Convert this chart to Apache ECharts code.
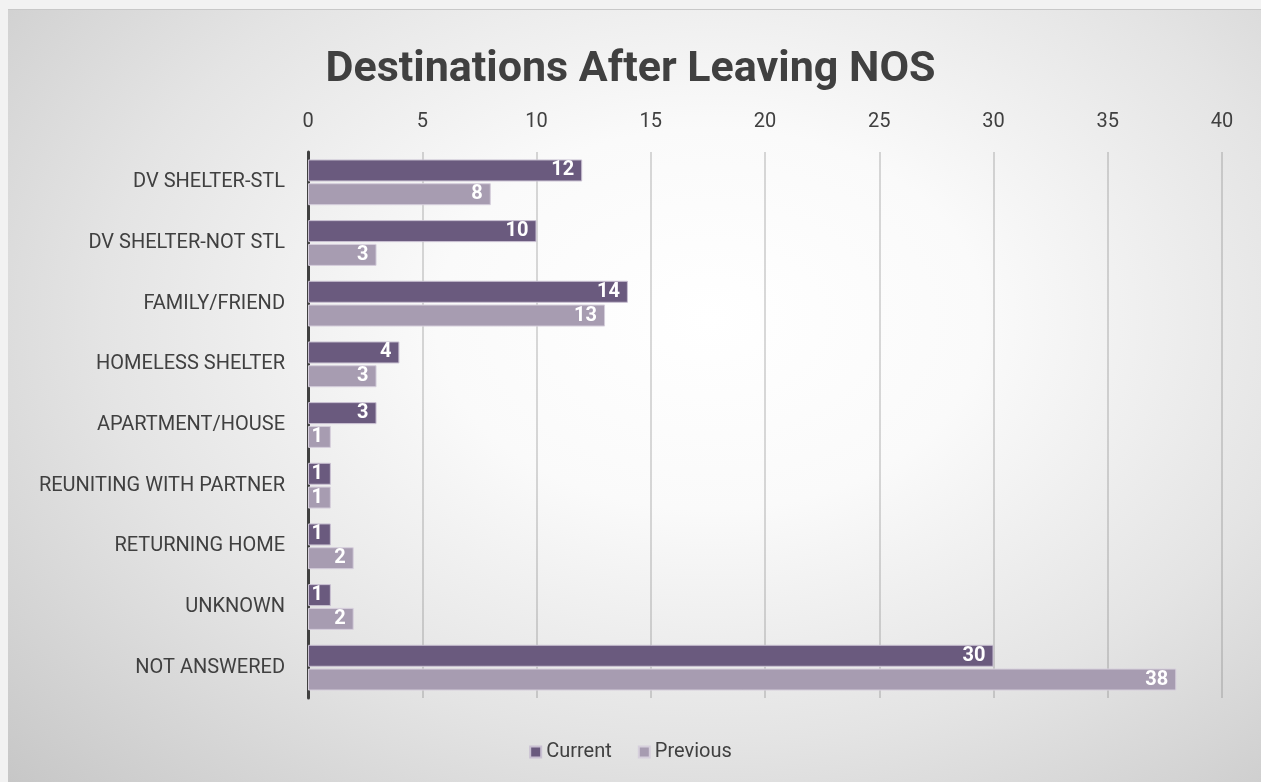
<!DOCTYPE html>
<html>
<head>
<meta charset="utf-8">
<script src="https://cdn.jsdelivr.net/npm/echarts@6/dist/echarts.min.js"></script>
<style>
html,body{margin:0;padding:0;background:#f2f2f2;}
#bg{position:absolute;left:8px;top:9px;width:1253px;height:773px;border-top:1px solid #c8c8c8;
background:radial-gradient(ellipse 78% 88% at 56% 40%, #ffffff 0%, #fafafa 28%, #e4e4e4 62%, #c6c6c6 100%);}
#chart{position:absolute;left:0;top:0;width:1261px;height:782px;}
</style>
</head>
<body>
<div id="bg"></div>
<div id="chart"></div>
<script>
const categories = ["DV SHELTER-STL","DV SHELTER-NOT STL","FAMILY/FRIEND","HOMELESS SHELTER","APARTMENT/HOUSE","REUNITING WITH PARTNER","RETURNING HOME","UNKNOWN","NOT ANSWERED"];
const currentValues = [12,10,14,4,3,1,1,1,30];
const previousValues = [8,3,13,3,1,1,2,2,38];
const seriesNames = ["Current","Previous"];

const chart = echarts.init(document.getElementById('chart'));
const font = 'Roboto, "Liberation Sans", sans-serif';
const labelStyle = {show:true, position:'insideRight', color:'#ffffff', fontWeight:'bold', fontSize:20, fontFamily:font, distance:8};
chart.setOption({
  backgroundColor:'transparent',
  animation:false,
  title:{text:'Destinations After Leaving NOS', left:'center', top:44,
    textStyle:{fontSize:43, fontWeight:'bold', color:'#404040', fontFamily:font}},
  legend:{bottom:15, left:'center', itemWidth:11, itemHeight:11, itemGap:26, icon:'rect',
    textStyle:{fontSize:20, color:'#404040', fontFamily:font}, data:seriesNames},
  grid:{left:308, right:39, top:152, bottom:84, containLabel:false},
  xAxis:{type:'value', position:'top', min:0, max:40, interval:5,
    axisLine:{show:false}, axisTick:{show:false},
    axisLabel:{fontSize:20, color:'#404040', fontFamily:font, margin:20},
    splitLine:{lineStyle:{color:'rgba(110,110,110,0.35)', width:1.5}}},
  yAxis:{type:'category', inverse:true, data:categories,
    axisLine:{lineStyle:{color:'#404040', width:3}}, axisTick:{show:false},
    axisLabel:{fontSize:20, color:'#404040', fontFamily:font, margin:23}},
  series:[
    {name:seriesNames[0], type:'bar', data:currentValues, barWidth:22, barGap:'8%',
     itemStyle:{color:'#6a5a7e', borderColor:'#c9c0d2', borderWidth:1}, label:labelStyle},
    {name:seriesNames[1], type:'bar', data:previousValues, barWidth:22,
     itemStyle:{color:'#a79cb1', borderColor:'#d6cfdc', borderWidth:1}, label:labelStyle}
  ]
});
</script>
</body>
</html>
